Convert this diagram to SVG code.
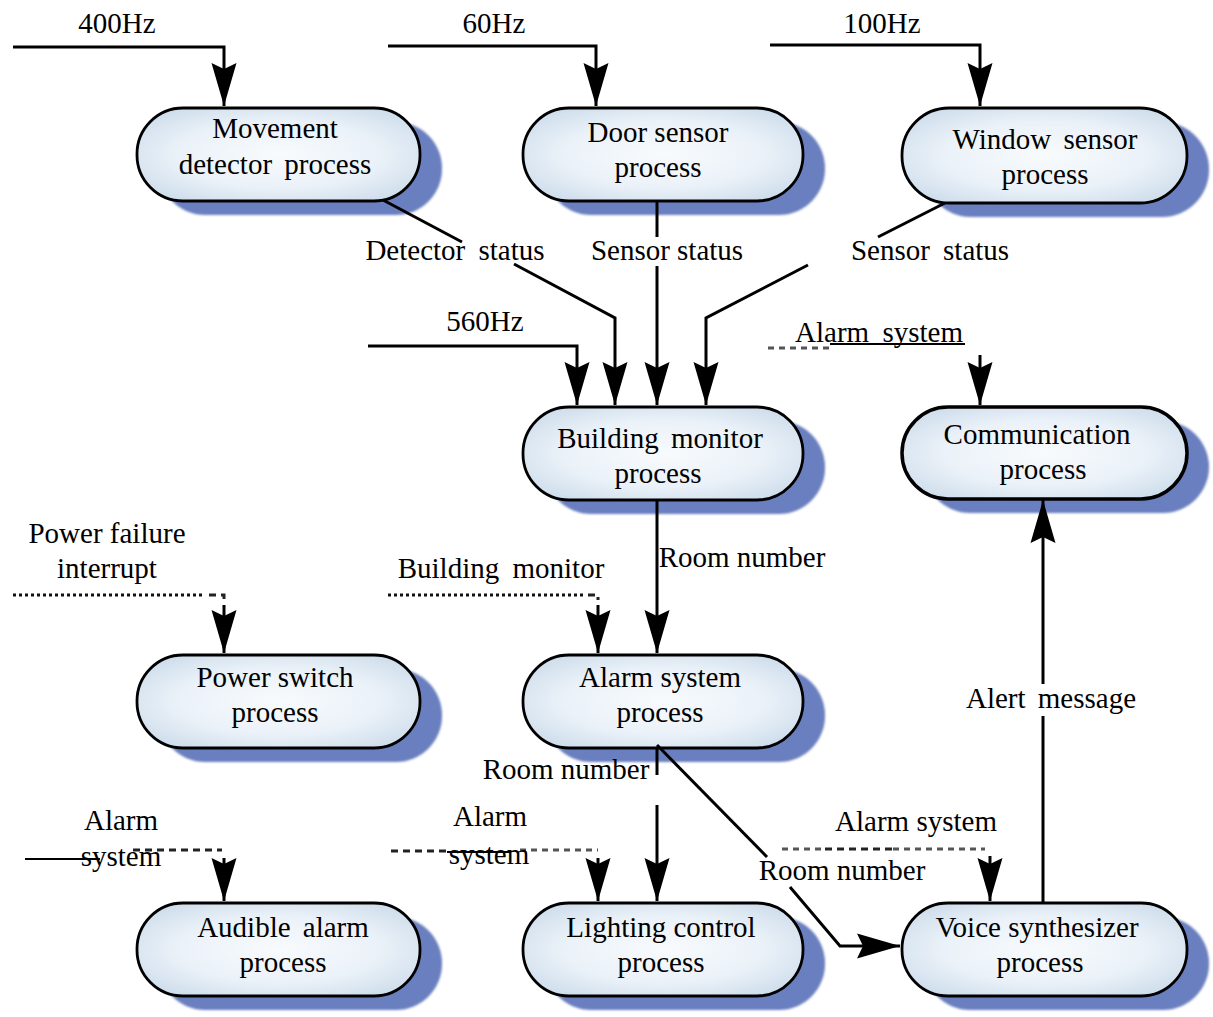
<svg xmlns="http://www.w3.org/2000/svg" width="1213" height="1017" viewBox="0 0 1213 1017">
<style>
text{font-family:"Liberation Serif","Times New Roman",serif;font-size:29px;fill:#000;text-anchor:middle}
.shadow{fill:#6a7fbf;filter:url(#soft)}
.box{fill:url(#g);stroke:#000;stroke-width:2.8}
.box2{fill:url(#g);stroke:#000;stroke-width:3.5}
.c{fill:none;stroke:#000;stroke-width:3}
.thin{fill:none;stroke:#000;stroke-width:1.8}
.dot{fill:none;stroke:#111;stroke-width:3;stroke-dasharray:3 3}
.dash{fill:none;stroke:#222;stroke-width:3;stroke-dasharray:7 5}
.gdash{fill:none;stroke:#555;stroke-width:3;stroke-dasharray:6 5}
</style>
<defs>
<radialGradient id="g" cx="0.5" cy="0.5" r="0.6">
<stop offset="0" stop-color="#f8fbfd"/>
<stop offset="0.6" stop-color="#eaf1f8"/>
<stop offset="1" stop-color="#cfdeec"/>
</radialGradient>
<filter id="soft" x="-5%" y="-10%" width="110%" height="120%"><feGaussianBlur stdDeviation="1"/></filter>
<marker id="ah" markerUnits="userSpaceOnUse" viewBox="-44 -14 46 28" refX="0" refY="0" markerWidth="46" markerHeight="28" orient="auto">
<path d="M0,0 L-43,-12.5 L-37,0 L-43,12.5 Z" fill="#000"/>
</marker>
</defs>

<g id="node-movement"><rect class="shadow" x="159" y="122" width="283" height="93" rx="46"/><rect class="box" x="137" y="108" width="283" height="93" rx="46"/><text x="275" y="138">Movement</text><text x="275" y="174" word-spacing="5">detector process</text></g>
<g id="node-door"><rect class="shadow" x="545" y="122" width="280" height="93" rx="46"/><rect class="box" x="523" y="108" width="280" height="93" rx="46"/><text x="658" y="142">Door sensor</text><text x="658" y="177">process</text></g>
<g id="node-window"><rect class="shadow" x="924" y="122" width="285" height="95" rx="47"/><rect class="box" x="902" y="108" width="285" height="95" rx="47"/><text x="1045" y="149" word-spacing="5">Window sensor</text><text x="1045" y="184">process</text></g>
<g id="node-building"><rect class="shadow" x="545" y="421" width="280" height="93" rx="46"/><rect class="box" x="523" y="407" width="280" height="93" rx="46"/><text x="660" y="448" word-spacing="5">Building monitor</text><text x="658" y="483">process</text></g>
<g id="node-comm"><rect class="shadow" x="924" y="421" width="285" height="92" rx="46"/><rect class="box2" x="902" y="407" width="285" height="92" rx="46"/><text x="1037" y="444">Communication</text><text x="1043" y="479">process</text></g>
<g id="node-power"><rect class="shadow" x="159" y="669" width="283" height="93" rx="46"/><rect class="box" x="137" y="655" width="283" height="93" rx="46"/><text x="275" y="687">Power switch</text><text x="275" y="722">process</text></g>
<g id="node-alarm"><rect class="shadow" x="545" y="669" width="280" height="93" rx="46"/><rect class="box" x="523" y="655" width="280" height="93" rx="46"/><text x="660" y="687">Alarm system</text><text x="660" y="722">process</text></g>
<g id="node-audible"><rect class="shadow" x="159" y="917" width="283" height="93" rx="46"/><rect class="box" x="137" y="903" width="283" height="93" rx="46"/><text x="283" y="937" word-spacing="5">Audible alarm</text><text x="283" y="972">process</text></g>
<g id="node-lighting"><rect class="shadow" x="545" y="917" width="280" height="93" rx="46"/><rect class="box" x="523" y="903" width="280" height="93" rx="46"/><text x="661" y="937">Lighting control</text><text x="661" y="972">process</text></g>
<g id="node-voice"><rect class="shadow" x="924" y="917" width="285" height="93" rx="46"/><rect class="box" x="902" y="903" width="285" height="93" rx="46"/><text x="1037" y="937">Voice synthesizer</text><text x="1040" y="972">process</text></g>

<g id="connectors">
<path class="c" d="M13,47 H224 V106" marker-end="url(#ah)"/>
<path class="c" d="M388,46 H596 V106" marker-end="url(#ah)"/>
<path class="c" d="M770,45 H980 V106" marker-end="url(#ah)"/>
<path class="c" d="M383,200 L462,242"/>
<path class="c" d="M514,264 L615,318 V405" marker-end="url(#ah)"/>
<path class="c" d="M657,201 V237"/>
<path class="c" d="M657,266 V405" marker-end="url(#ah)"/>
<path class="c" d="M945,203 L878,237"/>
<path class="c" d="M808,265 L706,318 V405" marker-end="url(#ah)"/>
<path class="c" d="M368,346 H577 V405" marker-end="url(#ah)"/>
<path class="gdash" d="M768,348 H830"/>
<path class="thin" d="M830,344 H965"/>
<path class="c" d="M980,355 V405" marker-end="url(#ah)"/>
<path class="c" d="M657,500 V653" marker-end="url(#ah)"/>
<path class="dot" d="M388,595 H585"/>
<path class="dash" d="M588,595 H598 V600"/>
<path class="c" d="M598,605 V653" marker-end="url(#ah)"/>
<path class="dot" d="M13,595 H205"/>
<path class="dash" d="M209,595 H224 V600"/>
<path class="c" d="M224,605 V653" marker-end="url(#ah)"/>
<path class="c" d="M657,748 V775"/>
<path class="c" d="M657,805 V901" marker-end="url(#ah)"/>
<path class="c" d="M657,745 L767,857"/>
<path class="c" d="M790,887 L840,946 H900" marker-end="url(#ah)"/>
<path class="gdash" d="M782,849 H825"/>
<path class="dash" d="M825,849 H893"/>
<path class="gdash" d="M893,849 H985"/>
<path class="c" d="M990,856 V901" marker-end="url(#ah)"/>
<path class="dash" d="M391,851 H450"/>
<path class="thin" d="M447,852 H510"/>
<path class="gdash" d="M520,850 H598"/>
<path class="c" d="M598,858 V901" marker-end="url(#ah)"/>
<path class="thin" d="M25,859 H100"/>
<path class="dash" d="M133,850 H222"/>
<path class="c" d="M224,858 V901" marker-end="url(#ah)"/>
<path class="c" d="M1043,903 V716"/>
<path class="c" d="M1043,684 V500" marker-end="url(#ah)"/>
</g>

<g id="labels">
<text x="117" y="33">400Hz</text>
<text x="494" y="33">60Hz</text>
<text x="882" y="33">100Hz</text>
<text x="455" y="260" word-spacing="6">Detector status</text>
<text x="667" y="260">Sensor status</text>
<text x="930" y="260" word-spacing="6">Sensor status</text>
<text x="485" y="331">560Hz</text>
<text x="879" y="342" word-spacing="6">Alarm system</text>
<text x="107" y="543">Power failure</text>
<text x="107" y="578">interrupt</text>
<text x="501" y="578" word-spacing="6">Building monitor</text>
<text x="742" y="567">Room number</text>
<text x="1051" y="708" word-spacing="5">Alert message</text>
<text x="566" y="779">Room number</text>
<text x="121" y="830">Alarm</text>
<text x="121" y="866">system</text>
<text x="490" y="826">Alarm</text>
<text x="489" y="864">system</text>
<text x="916" y="831">Alarm system</text>
<text x="842" y="880">Room number</text>
</g>
</svg>
